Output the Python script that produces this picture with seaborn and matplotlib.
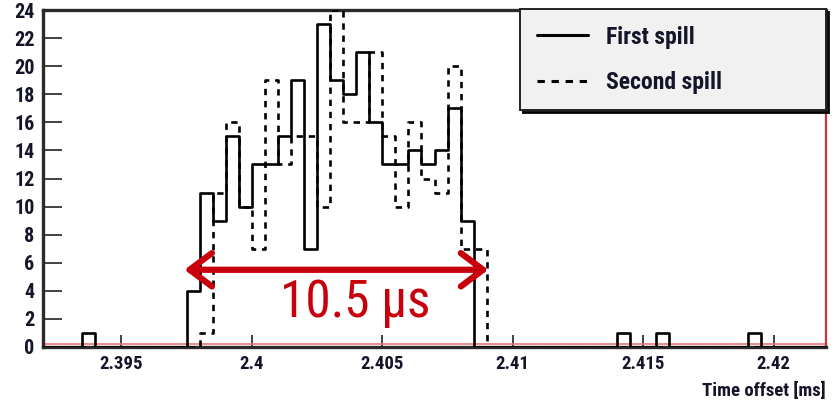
import numpy as np
import pandas as pd
import matplotlib
matplotlib.use("Agg")
import matplotlib.pyplot as plt
from matplotlib import font_manager as fm
from matplotlib.lines import Line2D
from matplotlib.ticker import FixedLocator, MultipleLocator
import seaborn as sns

# ---------------- data ----------------
x_min, x_max, bin_width = 2.392, 2.422, 0.0005   # ms
bin_edges = np.round(np.arange(x_min, x_max + bin_width / 2, bin_width), 5)
bin_centers = (bin_edges[:-1] + bin_edges[1:]) / 2

# counts per 0.5 us bin (60 bins from 2.392 ms)
first_spill = [0, 0, 0, 1, 0, 0, 0, 0, 0, 0,
               0, 4, 11, 9, 15, 10, 13, 13, 15, 19,
               7, 23, 19, 18, 21, 16, 13, 13, 14, 13,
               14, 17, 9, 0, 0, 0, 0, 0, 0, 0,
               0, 0, 0, 0, 1, 0, 0, 1, 0, 0,
               0, 0, 0, 0, 1, 0, 0, 0, 0, 0]
second_spill = [0, 0, 0, 0, 0, 0, 0, 0, 0, 0,
                0, 0, 1, 11, 16, 10, 7, 19, 13, 15,
                15, 10, 24, 16, 16, 21, 15, 10, 16, 12,
                11, 20, 7, 7, 0, 0, 0, 0, 0, 0,
                0, 0, 0, 0, 0, 0, 0, 0, 0, 0,
                0, 0, 0, 0, 0, 0, 0, 0, 0, 0]
series_labels = ["First spill", "Second spill"]

x_ticks = [2.395, 2.4, 2.405, 2.41, 2.415, 2.42]
x_tick_labels = ["2.395", "2.4", "2.405", "2.41", "2.415", "2.42"]
y_ticks = list(range(0, 25, 2))
y_tick_labels = [str(v) for v in y_ticks]
x_label = "Time offset [ms]"
width_label = "10.5 μs"
arrow_start, arrow_end, arrow_level = 2.39742, 2.40906, 5.5
label_x, label_y = 2.40398, 3.1

df = pd.DataFrame({
    "time": np.concatenate([bin_centers, bin_centers]),
    "count": np.concatenate([first_spill, second_spill]),
    "spill": [series_labels[0]] * len(bin_centers) + [series_labels[1]] * len(bin_centers),
})

# ---------------- style ----------------
sns.set_theme(style="white")
names = {f.name for f in fm.fontManager.ttflist}
narrow = next((n for n in ["Liberation Sans Narrow", "Roboto Condensed",
                           "Open Sans Condensed", "Liberation Sans"] if n in names),
              "DejaVu Sans")
plt.rcParams["font.family"] = [narrow, "DejaVu Sans"]

W, H = 836, 403
fig = plt.figure(figsize=(W / 100, H / 100), dpi=100)
fig.patch.set_facecolor("white")
ax = fig.add_axes([43 / W, 1 - 347 / H, (826 - 43) / W, (347 - 10) / H])
ax.set_facecolor("white")

red = "#c8000c"
ink = "#15152a"

# red baseline (behind histograms)
ax.axhline(0.22, color="#e8777f", lw=1.2, zorder=1)

styles = {series_labels[0]: "-", series_labels[1]: (0, (2.4, 2.2))}
for lab in series_labels:
    sns.histplot(data=df[df["spill"] == lab], x="time", weights="count",
                 bins=list(bin_edges), element="step", fill=False, color="black",
                 linewidth=1.9, linestyle=styles[lab], ax=ax, zorder=3)

ax.set_xlim(x_min, x_max)
ax.set_ylim(0, 24)

ax.xaxis.set_major_locator(FixedLocator(x_ticks))
ax.set_xticklabels(x_tick_labels, fontweight="bold")
ax.xaxis.set_minor_locator(MultipleLocator(0.001))
ax.yaxis.set_major_locator(FixedLocator(y_ticks))
ax.set_yticklabels(y_tick_labels, fontweight="bold")
ax.yaxis.set_minor_locator(MultipleLocator(0.5))

ax.tick_params(axis="x", which="major", direction="in", length=8.5, width=1.2,
               color="#222222", labelsize=13.5, labelcolor=ink, pad=6)
ax.tick_params(axis="x", which="minor", direction="in", length=4.3, width=1.0,
               color="#222222")
ax.tick_params(axis="y", which="major", direction="in", length=14, width=1.2,
               color="#222222", labelsize=14.5, labelcolor=ink, pad=6)
ax.tick_params(axis="y", which="minor", direction="in", length=7, width=1.0,
               color="#444444")
ax.tick_params(bottom=True, left=True, top=False, right=False)

for s in ["left", "top", "bottom"]:
    ax.spines[s].set_color("#2a2a2a")
    ax.spines[s].set_linewidth(2.4)
ax.spines["right"].set_color("#d03040")
ax.spines["right"].set_linewidth(1.6)

ax.set_ylabel("")
ax.set_xlabel(x_label, fontsize=13.5, color=ink, loc="right", labelpad=6,
              fontweight="bold")

# width annotation
ax.annotate("", xy=(arrow_start, arrow_level), xytext=(arrow_end, arrow_level),
            arrowprops=dict(arrowstyle="<->,head_length=0.8,head_width=0.6",
                            color=red, lw=4.5, mutation_scale=20,
                            shrinkA=0, shrinkB=0), zorder=5)
ax.text(label_x, label_y, width_label, color=red,
        fontsize=37, ha="center", va="center", zorder=5)

# legend
handles = [Line2D([], [], color="black", lw=2.2, linestyle=styles[l]) for l in series_labels]
leg = ax.legend(handles, series_labels, loc="upper left",
                bbox_to_anchor=(520 / W, 1 - 9 / H, 306 / W, 0.0),
                bbox_transform=fig.transFigure, mode="expand",
                prop={"size": 17, "weight": "bold"}, frameon=True, fancybox=False,
                shadow={"color": "black", "alpha": 0.9},
                borderpad=0.7, labelspacing=0.95, handlelength=2.2,
                handletextpad=0.75, borderaxespad=0.0)
fr = leg.get_frame()
fr.set_facecolor("#f1f1f1")
fr.set_edgecolor("#222222")
fr.set_linewidth(1.4)
fr.set_alpha(1)
for t in leg.get_texts():
    t.set_color(ink)
leg.set_zorder(10)

fig.savefig("out.png", dpi=100)
